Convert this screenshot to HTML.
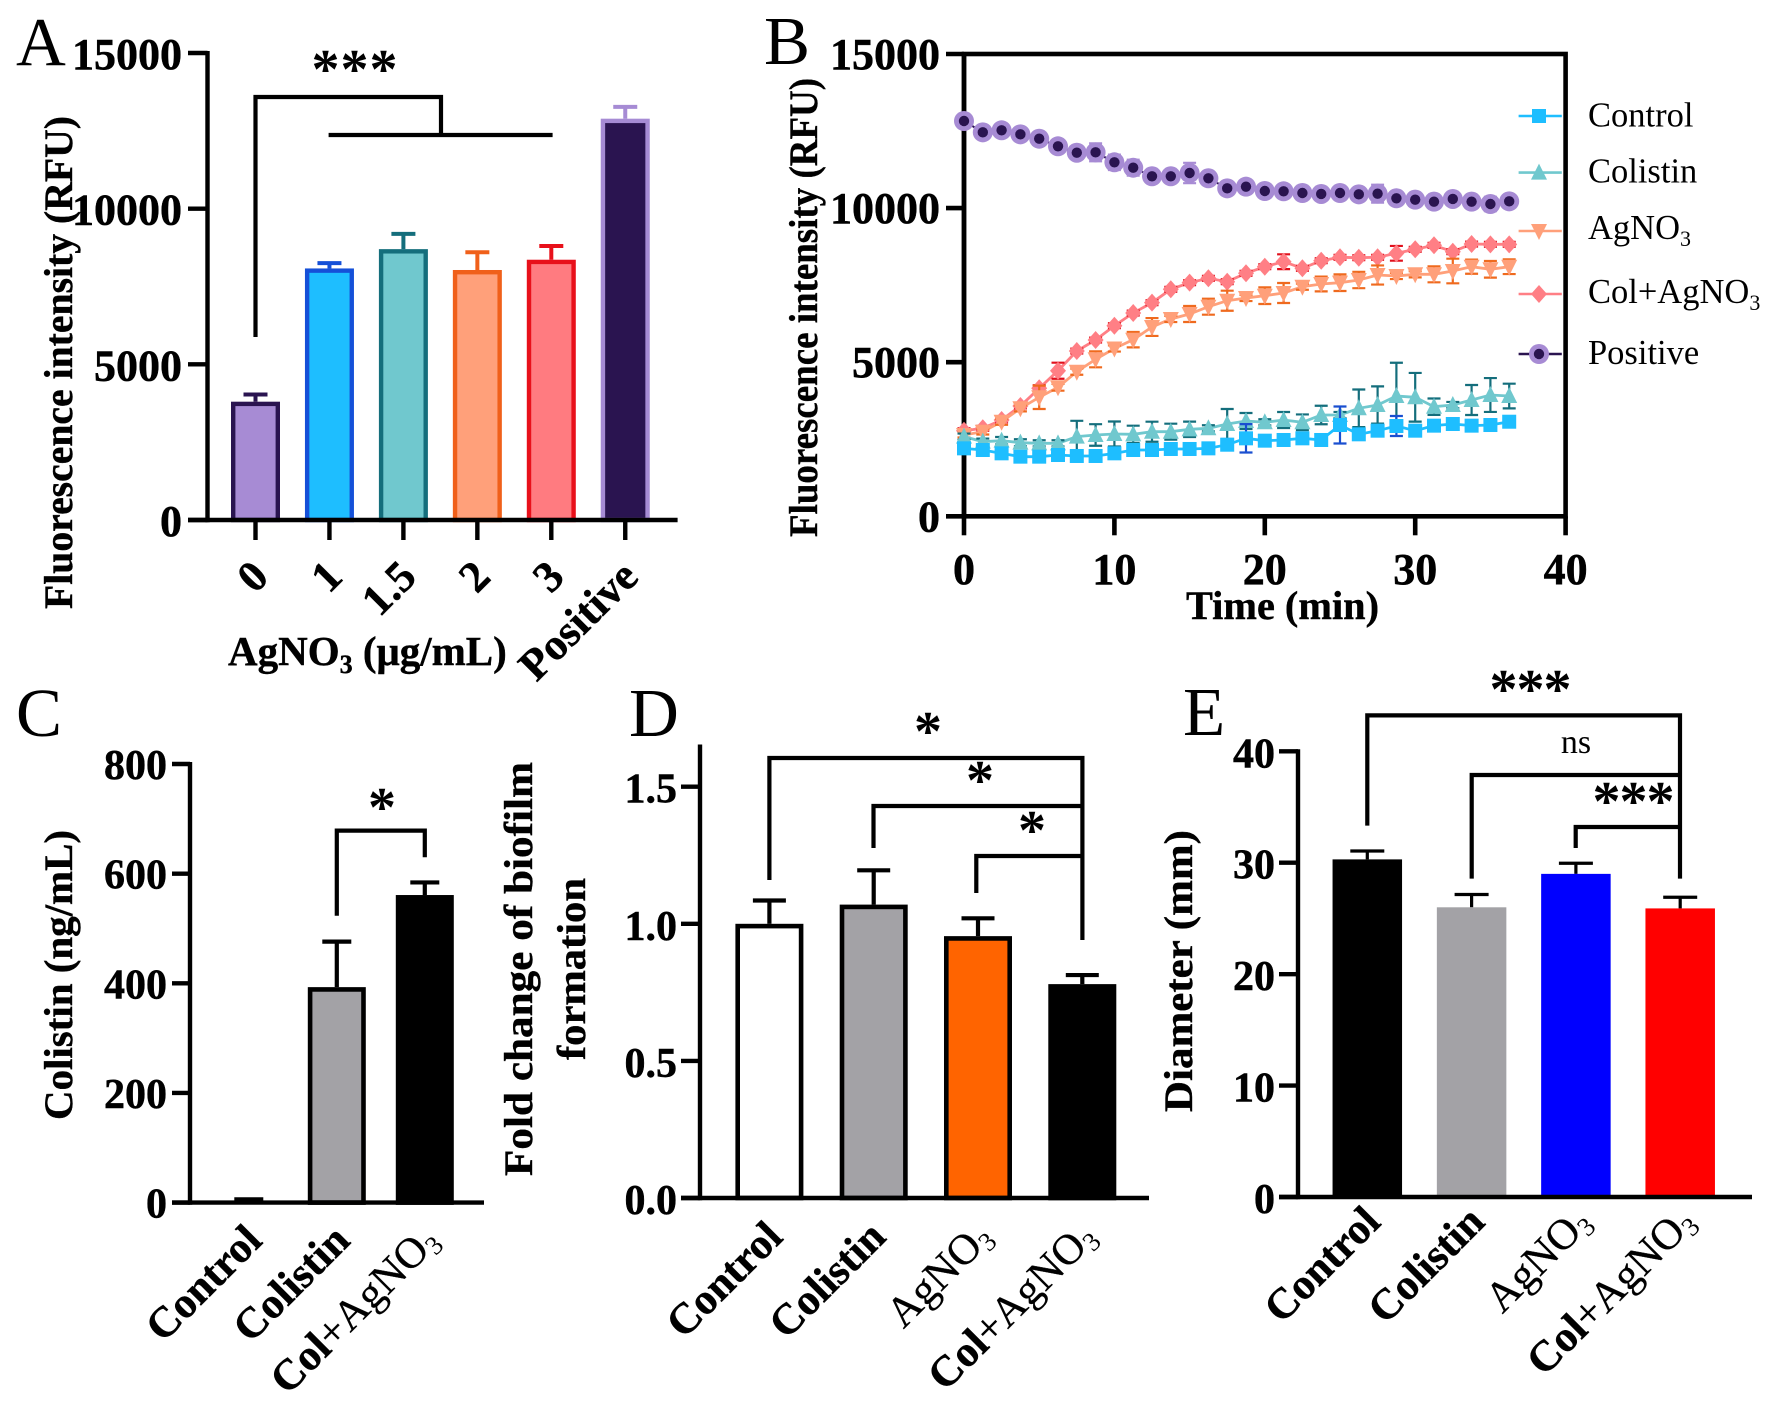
<!DOCTYPE html>
<html lang="en">
<head>
<meta charset="utf-8">
<title>Fluorescence, colistin, biofilm and diameter panels</title>
<style>
html,body{margin:0;padding:0;background:#fff;}
svg{display:block;}
text{font-family:"Liberation Serif","DejaVu Serif",serif;fill:#000;}
.b{font-weight:bold;stroke:#000;stroke-width:.4;}
text[font-weight="bold"]{stroke:#000;stroke-width:.5;}
.panel{font-size:69px;font-weight:normal;}
.title{font-size:40px;font-weight:bold;stroke:#000;stroke-width:.4;}
.br{fill:none;stroke:#000;stroke-width:4.2;}
.star{font-size:56px;font-weight:bold;text-anchor:middle;}
.leg{font-size:34.5px;}
</style>
</head>
<body>
<svg id="figure" xmlns="http://www.w3.org/2000/svg" width="1772" height="1402" viewBox="0 0 1772 1402">
<rect width="1772" height="1402" fill="#fff"/>

<g id="panelA">
  <text class="panel" x="16" y="65">A</text>
  <text class="title" transform="translate(72,609) rotate(-90)" textLength="493" lengthAdjust="spacingAndGlyphs">Fluorescence intensity (RFU)</text>
  <text class="b" x="228" y="665" font-size="41">AgNO<tspan font-size="26" dy="8">3</tspan><tspan dy="-8"> (μg/mL)</tspan></text>
  <path class="br" d="M255.5 337V97H441V135M328.6 135H552.6"/>
  <text class="star" x="355" y="88" letter-spacing="1">***</text>
</g>

<g id="panelB">
  <text class="panel" x="764" y="64">B</text>
  <text class="title" transform="translate(817,537) rotate(-90)" textLength="459" lengthAdjust="spacingAndGlyphs">Fluorescence intensity (RFU)</text>
  <text class="title" x="1186" y="619" textLength="193" lengthAdjust="spacingAndGlyphs">Time (min)</text>
  <text class="leg" x="1588" y="126.5">Control</text>
  <text class="leg" x="1588" y="182.5">Colistin</text>
  <text class="leg" x="1588" y="239">AgNO<tspan font-size="22" dy="7">3</tspan></text>
  <text class="leg" x="1588" y="303">Col+AgNO<tspan font-size="22" dy="7">3</tspan></text>
  <text class="leg" x="1588" y="364">Positive</text>
</g>

<g id="panelC">
  <text class="panel" x="16" y="736">C</text>
  <text class="title" transform="translate(72,1120) rotate(-90)" textLength="290" lengthAdjust="spacingAndGlyphs">Colistin (ng/mL)</text>
  <path class="br" d="M336.8 915.7V830.6H424.8V857.3"/>
  <text class="star" x="382" y="826">*</text>
</g>

<g id="panelD">
  <text class="panel" x="629" y="736">D</text>
  <text class="title" transform="translate(532,1176) rotate(-90)" textLength="414" lengthAdjust="spacingAndGlyphs">Fold change of biofilm</text>
  <text class="title" transform="translate(585,1060) rotate(-90)" textLength="182" lengthAdjust="spacingAndGlyphs">formation</text>
  <path class="br" d="M769.4 880V758H1082.4V940"/>
  <path class="br" d="M873.5 848V806H1082.4"/>
  <path class="br" d="M976.3 893V856H1082.4"/>
  <text class="star" x="928" y="750">*</text>
  <text class="star" x="980" y="799">*</text>
  <text class="star" x="1032" y="849">*</text>
</g>

<g id="panelE">
  <text class="panel" x="1183" y="735">E</text>
  <text class="title" transform="translate(1192,1112) rotate(-90)" textLength="282" lengthAdjust="spacingAndGlyphs">Diameter (mm)</text>
  <path class="br" d="M1367.3 825.6V715.4H1680V878.6"/>
  <path class="br" d="M1471.7 878.6V775H1680"/>
  <path class="br" d="M1575.7 848V827H1680"/>
  <text class="star" x="1530" y="708" letter-spacing="-1">***</text>
  <text x="1576" y="753" font-size="34" text-anchor="middle">ns</text>
  <text class="star" x="1633" y="820" letter-spacing="-1">***</text>
</g>
</svg>

<script>
// ---------- Panel A data ----------
const aCategories = ["0", "1", "1.5", "2", "3", "Positive"];
const aValues = [3800, 8080, 8700, 8030, 8360, 12890];
const aErrors = [230, 170, 490, 570, 440, 380];
const aYTicks = [0, 5000, 10000, 15000];

// ---------- Panel B data ----------
const bXTicks = [0, 10, 20, 30, 40];
const bYTicks = [0, 5000, 10000, 15000];
const bTimes = [0, 1.25, 2.5, 3.75, 5, 6.25, 7.5, 8.75, 10, 11.25, 12.5, 13.75, 15, 16.25, 17.5, 18.75, 20, 21.25, 22.5, 23.75, 25, 26.25, 27.5, 28.75, 30, 31.25, 32.5, 33.75, 35, 36.25];
const controlValues = [2205, 2151, 2043, 1935, 1935, 1989, 1957, 1957, 2043, 2151, 2151, 2184, 2184, 2205, 2323, 2530, 2454, 2476, 2530, 2476, 2962, 2660, 2778, 2930, 2778, 2941, 2995, 2941, 2962, 3069];
const controlErrors = [60, 70, 100, 90, 80, 90, 70, 80, 80, 90, 70, 60, 60, 70, 100, 460, 60, 70, 80, 60, 600, 90, 80, 325, 70, 80, 70, 80, 70, 90];
const colistinValues = [2584, 2422, 2454, 2389, 2368, 2368, 2584, 2638, 2670, 2660, 2745, 2745, 2822, 2855, 2995, 3092, 3050, 3125, 3050, 3287, 3287, 3504, 3611, 3903, 3861, 3556, 3611, 3773, 3936, 3903];
const colistinErrors = [100, 100, 120, 110, 100, 100, 515, 350, 405, 280, 325, 260, 250, 100, 487, 260, 100, 260, 255, 300, 100, 610, 605, 1080, 790, 265, 100, 487, 550, 400];
const agno3Values = [2638, 2745, 3069, 3504, 3861, 4186, 4692, 5094, 5445, 5730, 6142, 6402, 6564, 6801, 6995, 7083, 7158, 7245, 7450, 7537, 7580, 7667, 7829, 7797, 7852, 7852, 7959, 8099, 8014, 8099];
const agno3Errors = [80, 90, 100, 100, 380, 110, 100, 260, 100, 250, 290, 100, 260, 260, 325, 100, 270, 325, 100, 240, 270, 265, 310, 100, 100, 260, 400, 230, 270, 240];
const colAgno3Values = [2777, 2855, 3125, 3579, 4153, 4724, 5363, 5720, 6184, 6596, 6931, 7365, 7580, 7722, 7612, 7885, 8099, 8261, 8047, 8293, 8404, 8391, 8404, 8533, 8663, 8793, 8585, 8835, 8825, 8825];
const colAgno3Errors = [80, 80, 80, 80, 100, 260, 80, 80, 80, 80, 80, 80, 80, 80, 80, 80, 80, 240, 80, 80, 80, 80, 80, 240, 80, 80, 80, 80, 80, 80];
const positiveValues = [12826, 12459, 12524, 12394, 12252, 12005, 11797, 11810, 11486, 11311, 11032, 11032, 11139, 10967, 10642, 10695, 10555, 10545, 10490, 10458, 10490, 10447, 10468, 10318, 10274, 10209, 10296, 10209, 10133, 10220];
const positiveErrors = [100, 100, 100, 100, 100, 100, 100, 290, 250, 260, 130, 100, 330, 100, 100, 100, 100, 100, 100, 100, 100, 100, 290, 100, 100, 100, 100, 100, 230, 100];

// ---------- Panel C data ----------
const cCategories = ["Control", "Colistin", "Col+AgNO3"];
const cValues = [0, 393, 561];
const cErrors = [6, 83, 23];
const cYTicks = [0, 200, 400, 600, 800];

// ---------- Panel D data ----------
const dCategories = ["Control", "Colistin", "AgNO3", "Col+AgNO3"];
const dValues = [1.0, 1.07, 0.955, 0.78];
const dErrors = [0.085, 0.125, 0.065, 0.033];
const dYTicks = [0, 0.5, 1, 1.5];
const dYTickLabels = ["0.0", "0.5", "1.0", "1.5"];

// ---------- Panel E data ----------
const eCategories = ["Control", "Colistin", "AgNO3", "Col+AgNO3"];
const eValues = [30.3, 26.0, 29.0, 25.9];
const eErrors = [0.75, 1.15, 0.95, 1.0];
const eYTicks = [0, 10, 20, 30, 40];

// ---------- Axis functions ----------
const yA = v => 520 - v * 467 / 15000;
const xA = i => 255.5 + i * 73.95;
const yB = v => 516.3 - v * 462.3 / 15000;
const xB = t => 964 + t * 15.04;
const yC = v => 1202.6 - v * 438.6 / 800;
const xC = i => 248.8 + i * 88;
const yD = v => 1198 - v * 274.2;
const xD = i => 769.4 + i * 104.3;
const yE = v => 1197 - v * 445.7 / 40;
const xE = i => 1367.3 + i * 104.3;

const NS = 'http://www.w3.org/2000/svg';
function mk(tag, parent, attrs, text) {
  const node = document.createElementNS(NS, tag);
  for (const k in attrs) node.setAttribute(k, attrs[k]);
  if (text !== undefined) node.textContent = text;
  parent.appendChild(node);
  return node;
}
function slug(s) {
  return String(s).toLowerCase().replace(/[^a-z0-9]+/g, '-').replace(/^-|-$/g, '');
}

function drawYAxis(g, id, ticks, labels, yScale, axisX, tickLen, lw, top, fontSize, dyBase, gap) {
  const line = mk('line', g, {x1: axisX, x2: axisX, y1: top, y2: yScale(ticks[0]) + lw / 2, stroke: '#000', 'stroke-width': lw});
  
  
  ticks.forEach((t, i) => {
    const tick = mk('line', g, {x1: axisX - tickLen, x2: axisX, y1: yScale(t), y2: yScale(t), stroke: '#000', 'stroke-width': lw});
    
    
    const lab = mk('text', g, {x: axisX - tickLen - gap, y: yScale(t) + dyBase, 'text-anchor': 'end', 'font-size': fontSize, 'font-weight': 'bold'}, labels[i]);
    
    
  });
}

function drawBars(g, id, cats, vals, errs, xScale, yScale, style) {
  cats.forEach((c, i) => {
    const cx = xScale(i), top = yScale(vals[i]), errTop = yScale(vals[i] + errs[i]);
    const col = style.strokes[i], sw = style.sw;
    const stem = mk('line', g, {x1: cx, x2: cx, y1: top, y2: errTop, stroke: col, 'stroke-width': style.errW});
    
    
    const cap = mk('line', g, {x1: cx - style.cap / 2, x2: cx + style.cap / 2, y1: errTop, y2: errTop, stroke: col, 'stroke-width': style.errW});
    
    
    const w = style.width - sw;
    const bar = mk('rect', g, {x: cx - w / 2, y: top + sw / 2, width: w, height: Math.max(0, yScale(0) - top - sw / 2), fill: style.fills[i], stroke: sw ? col : 'none', 'stroke-width': sw});
    
    
  });
}

function drawXAxisLine(g, id, x1, x2, y, lw) {
  const line = mk('line', g, {x1: x1, x2: x2, y1: y, y2: y, stroke: '#000', 'stroke-width': lw});
  
  
}

function drawCategoryLabels(g, id, cats, xScale, dxFn, y, fs) {
  cats.forEach((c, i) => {
    const px = xScale(i) + dxFn(c);
    const t = mk('text', g, {transform: 'translate(' + px + ',' + y + ') rotate(-45)', 'text-anchor': 'end', 'font-size': fs, 'font-weight': 'bold'});
    
    
    const idx = c.indexOf('AgNO3');
    if (idx >= 0) {
      if (idx > 0) {
        mk('tspan', t, {}, c.slice(0, 3));
      }
      mk('tspan', t, {'font-weight': 'normal', 'stroke-width': 0.3}, c.slice(idx > 0 ? 3 : 0, -1));
      mk('tspan', t, {'font-weight': 'normal', 'stroke-width': 0, 'font-size': fs * 0.62, dy: 6}, '3');
    } else {
      t.textContent = c;
    }
  });
}

function drawMarker(g, shape, cx, cy, color, name) {
  let m;
  if (shape === 'square') {
    m = mk('rect', g, {x: cx - 7, y: cy - 7, width: 14, height: 14, fill: color});
  } else if (shape === 'up') {
    m = mk('polygon', g, {points: [cx, cy - 9, cx + 8, cy + 7, cx - 8, cy + 7].join(' '), fill: color});
  } else if (shape === 'down') {
    m = mk('polygon', g, {points: [cx, cy + 9, cx + 8, cy - 7, cx - 8, cy - 7].join(' '), fill: color});
  } else if (shape === 'diamond') {
    m = mk('polygon', g, {points: [cx, cy - 9, cx + 8, cy, cx, cy + 9, cx - 8, cy].join(' '), fill: color});
  } else {
    m = mk('circle', g, {cx: cx, cy: cy, r: 10, fill: color});
    
    
    m = mk('circle', g, {cx: cx, cy: cy, r: 5.2, fill: '#2a1450'});
  }
  
  
}

function drawSeries(g, id, values, errors, shape, fill, errColor, lineColor, lineW) {
  const pts = bTimes.map((t, i) => xB(t) + ',' + yB(values[i])).join(' ');
  const poly = mk('polyline', g, {points: pts, fill: 'none', stroke: lineColor, 'stroke-width': lineW});
  
  
  bTimes.forEach((t, i) => {
    const x = xB(t), hi = yB(values[i] + errors[i]), lo = yB(values[i] - errors[i]);
    const eb = mk('path', g, {d: 'M' + (x - 6.5) + ' ' + hi + 'H' + (x + 6.5) + 'M' + x + ' ' + hi + 'V' + lo + 'M' + (x - 6.5) + ' ' + lo + 'H' + (x + 6.5), fill: 'none', stroke: errColor, 'stroke-width': 2.2});
    
    
  });
  bTimes.forEach((t, i) => {
    drawMarker(g, shape, xB(t), yB(values[i]), fill, 'point-' + id);
  });
}

// ---------- Panel A ----------
(function () {
  const g = document.getElementById('panelA');
  const style = {
    fills: ['#a78bd4', '#1ebeff', '#70c8ce', '#ffa07a', '#ff7b80', '#2a1450'],
    strokes: ['#2a1450', '#1550d8', '#146e7c', '#f0601a', '#e8101a', '#a68bd4'],
    sw: 4.4, errW: 4, cap: 24, width: 49
  };
  drawBars(g, 'a', aCategories, aValues, aErrors, xA, yA, style);
  drawYAxis(g, 'a', aYTicks, aYTicks.map(String), yA, 207.5, 19.5, 4.4, yA(15000) - 2, 44, 16, 6);
  drawXAxisLine(g, 'a', 188, 677.6, yA(0), 4.4);
  aCategories.forEach((c, i) => {
    const tick = mk('line', g, {x1: xA(i), x2: xA(i), y1: yA(0), y2: yA(0) + 20, stroke: '#000', 'stroke-width': 4.4});
    
    
    const lab = mk('text', g, {transform: 'translate(' + (xA(i) + 15) + ',' + 579 + ') rotate(-45)', 'text-anchor': 'end', 'font-size': 44, 'font-weight': 'bold'}, c);
    
    
  });
})();

// ---------- Panel B ----------
(function () {
  const g = document.getElementById('panelB');
  const frame = mk('rect', g, {x: xB(0), y: yB(15000), width: xB(40) - xB(0), height: yB(0) - yB(15000), fill: 'none', stroke: '#000', 'stroke-width': 4.6});
  
  
  drawYAxis(g, 'b', bYTicks, bYTicks.map(String), yB, xB(0), 18, 4.6, yB(15000), 44, 15, 6);
  bXTicks.forEach(t => {
    const tick = mk('line', g, {x1: xB(t), x2: xB(t), y1: yB(0), y2: yB(0) + 19, stroke: '#000', 'stroke-width': 4.6});
    
    
    const lab = mk('text', g, {x: xB(t), y: 584, 'text-anchor': 'middle', 'font-size': 44, 'font-weight': 'bold'}, String(t));
    
    
  });
  drawSeries(g, 'positive', positiveValues, positiveErrors, 'circle', '#a78bd4', '#a78bd4', '#2a1450', 2);
  drawSeries(g, 'col-agno3', colAgno3Values, colAgno3Errors, 'diamond', '#ff7f85', '#e0101c', '#ff7f85', 2.8);
  drawSeries(g, 'agno3', agno3Values, agno3Errors, 'down', '#ffa07a', '#ef6a1e', '#ffa07a', 2.8);
  drawSeries(g, 'colistin', colistinValues, colistinErrors, 'up', '#70c8ce', '#146e7c', '#70c8ce', 2.8);
  drawSeries(g, 'control', controlValues, controlErrors, 'square', '#1ebeff', '#1a4fd0', '#1ebeff', 2.8);

  const names = ['control', 'colistin', 'agno3', 'col-agno3', 'positive'];
  const shapes = ['square', 'up', 'down', 'diamond', 'circle'];
  const fills = ['#1ebeff', '#70c8ce', '#ffa07a', '#ff7f85', '#a78bd4'];
  const lines = ['#1ebeff', '#70c8ce', '#ffa07a', '#ff7f85', '#2a1450'];
  const rowY = [116, 172.6, 231, 294, 354];
  names.forEach((n, i) => {
    const l = mk('line', g, {x1: 1518.6, x2: 1561.8, y1: rowY[i], y2: rowY[i], stroke: lines[i], 'stroke-width': 2.6});
    
    
    drawMarker(g, shapes[i], 1539, rowY[i], fills[i], 'legend-marker-' + n);
  });
})();

// ---------- Panel C ----------
(function () {
  const g = document.getElementById('panelC');
  const style = {fills: ['#fff', '#a3a2a6', '#000'], strokes: ['#000', '#000', '#000'], sw: 4.6, errW: 4.2, cap: 29, width: 58};
  drawBars(g, 'c', cCategories, cValues, cErrors, xC, yC, style);
  drawYAxis(g, 'c', cYTicks, cYTicks.map(String), yC, 190, 18, 4.4, yC(800) - 2, 42, 15, 5);
  drawXAxisLine(g, 'c', 172, 484, yC(0), 4.4);
  drawCategoryLabels(g, 'c', cCategories, xC, c => c === 'Col+AgNO3' ? 16 : 15, yC(0) + 40, 43);
})();

// ---------- Panel D ----------
(function () {
  const g = document.getElementById('panelD');
  const style = {fills: ['#fff', '#a3a2a6', '#ff6400', '#000'], strokes: ['#000', '#000', '#000', '#000'], sw: 4.6, errW: 4.2, cap: 33, width: 68};
  drawBars(g, 'd', dCategories, dValues, dErrors, xD, yD, style);
  drawYAxis(g, 'd', dYTicks, dYTickLabels, yD, 700, 19, 4.4, 744.5, 42, 16, 4);
  drawXAxisLine(g, 'd', 681, 1149, yD(0), 4.4);
  drawCategoryLabels(g, 'd', dCategories, xD, c => c === 'Control' ? 15 : c === 'Colistin' ? 14 : 16, yD(0) + 41, 43);
})();

// ---------- Panel E ----------
(function () {
  const g = document.getElementById('panelE');
  const style = {fills: ['#000', '#a3a2a6', '#0000ff', '#ff0000'], strokes: ['#000', '#000', '#000', '#000'], sw: 0, errW: 3.2, cap: 34, width: 69.5};
  drawBars(g, 'e', eCategories, eValues, eErrors, xE, yE, style);
  drawYAxis(g, 'e', eYTicks, eYTicks.map(String), yE, 1298, 19, 4.4, yE(40) - 2, 42, 16, 4);
  drawXAxisLine(g, 'e', 1279, 1752, yE(0), 4.4);
  drawCategoryLabels(g, 'e', eCategories, xE, c => c === 'Control' ? 15 : c === 'Colistin' ? 15 : 17, yE(0) + 27, 43);
})();
</script>
</body>
</html>
